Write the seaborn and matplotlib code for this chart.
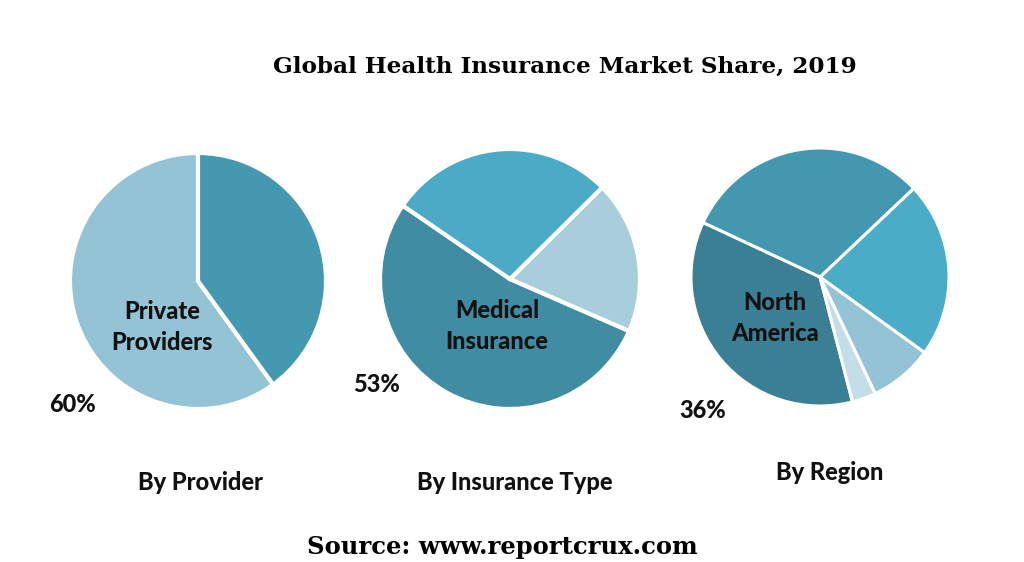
import matplotlib
matplotlib.use("Agg")
import matplotlib.pyplot as plt
import seaborn as sns

# Market share data (percent)
provider_labels = ["Private Providers", "Public Providers"]
provider_share = [60, 40]
provider_colors = ["#93C3D5", "#4499B0"]

type_labels = ["Medical Insurance", "Other", "Disease Insurance"]
type_share = [53, 19, 28]
type_colors = ["#3F8CA3", "#A8CDDB", "#4BABC6"]

region_labels = ["North America", "Latin America", "Middle East & Africa", "Asia Pacific", "Europe"]
region_share = [36, 3, 8, 22, 31]
region_colors = ["#3A7F93", "#C3DEE8", "#93C3D5", "#4AACC7", "#4397AF"]

sns.set_theme(style="white")
plt.rcParams["font.family"] = ["Lato", "DejaVu Sans"]

W, H = 1024, 562
fig = plt.figure(figsize=(W / 100, H / 100), dpi=100)
ax = fig.add_axes([0, 0, 1, 1])

# pixel coords -> data coords (y up)
def Y(y):
    return H - y

ax.pie(provider_share, colors=provider_colors, startangle=90, counterclock=True,
       center=(198, Y(281)), radius=128, wedgeprops=dict(edgecolor="white", linewidth=3))
ax.pie(type_share, colors=type_colors, startangle=145.6, counterclock=True,
       center=(510, Y(279)), radius=130, wedgeprops=dict(edgecolor="white", linewidth=3))
ax.pie(region_share, colors=region_colors, startangle=155, counterclock=True,
       center=(820, Y(277)), radius=129, wedgeprops=dict(edgecolor="white", linewidth=2.2))

ax.set_xlim(0, W)
ax.set_ylim(0, H)
ax.set_aspect("equal")
ax.axis("off")

lbl = dict(fontsize=17, fontweight="black", color="#111111", ha="center", va="center")
ax.text(162, Y(327), "Private\nProviders", linespacing=1.4, **lbl)
ax.text(72, Y(404), "60%", **lbl)
ax.text(497, Y(326), "Medical\nInsurance", linespacing=1.4, **lbl)
ax.text(377, Y(385), "53%", **lbl)
ax.text(775, Y(318), "North\nAmerica", linespacing=1.4, **lbl)
ax.text(703, Y(411), "36%", **lbl)

ax.text(200, Y(482), "By Provider", **lbl)
ax.text(515, Y(482), "By Insurance Type", **lbl)
ax.text(830, Y(473), "By Region", **lbl)

ax.text(565, Y(67), "Global Health Insurance Market Share, 2019", fontsize=16.7,
        fontweight="bold", family="DejaVu Serif", ha="center", va="center", color="black")
ax.text(502, Y(547), "Source: www.reportcrux.com", fontsize=17.5,
        fontweight="bold", family="DejaVu Serif", ha="center", va="center", color="black")

fig.savefig("out.png", dpi=100, facecolor="white")
